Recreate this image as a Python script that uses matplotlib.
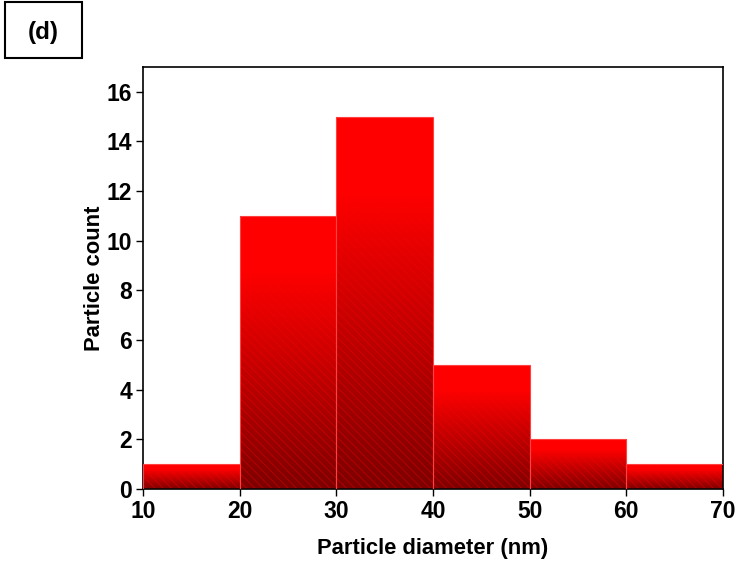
import numpy as np
import matplotlib.pyplot as plt
from matplotlib.colors import LinearSegmentedColormap
from matplotlib.patches import Rectangle

plt.rcParams['font.family'] = ['Liberation Sans', 'DejaVu Sans']
plt.rcParams['font.weight'] = 'bold'
plt.rcParams['hatch.linewidth'] = 0.6

# histogram bins (nm) and counts
bin_edges = [10, 20, 30, 40, 50, 60, 70]
counts = [1, 11, 15, 5, 2, 1]

fig = plt.figure(figsize=(7.42, 5.67), dpi=100)
ax = fig.add_axes([143/742, 1 - 489/567, (723-143)/742, (489-67)/567])

# red -> dark red gradient, top to bottom of each bar
cmap = LinearSegmentedColormap.from_list(
    'redgrad', [(0, '#7c0000'), (0.8, '#ff0000'), (1, '#ff0000')])
grad = np.linspace(0, 1, 256).reshape(-1, 1)

for i, c in enumerate(counts):
    x0, x1 = bin_edges[i], bin_edges[i+1]
    im = ax.imshow(grad, extent=[x0, x1, 0, c], origin='lower', aspect='auto',
                   cmap=cmap, zorder=1, interpolation='bilinear')
    rect = Rectangle((x0, 0), x1 - x0, c, facecolor='none', edgecolor='none')
    ax.add_patch(rect)
    im.set_clip_path(rect)
    # diagonal hatch + thin edge
    ax.bar(x0, c, width=x1 - x0, align='edge', facecolor='none',
           edgecolor=(1, 0, 0, 0.45), hatch='\\\\\\\\', linewidth=0, zorder=2)
    ax.bar(x0, c, width=x1 - x0, align='edge', facecolor='none',
           edgecolor='#ff4040', linewidth=0.8, zorder=3)

ax.set_xlim(10, 70)
ax.set_ylim(0, 17)
ax.set_xticks(range(10, 71, 10))
ax.set_yticks(range(0, 17, 2))
ax.tick_params(direction='out', length=5, width=1, labelsize=16.5,
               top=False, right=False, pad=3)
for s in ax.spines.values():
    s.set_linewidth(1.2)

ax.set_xlabel('Particle diameter (nm)', fontsize=15.8, fontweight='bold', labelpad=11)
ax.set_ylabel('Particle count', fontsize=15.8, fontweight='bold', labelpad=1)

fig.patches.append(Rectangle((5/742, 1 - 58/567), 77/742, 56/567,
                             transform=fig.transFigure, facecolor='white',
                             edgecolor='black', linewidth=1.5))
fig.text(43/742, 1 - 33/567, '(d)', fontsize=17.5, fontweight='bold',
         ha='center', va='center')

fig.savefig('out.png', dpi=100)
